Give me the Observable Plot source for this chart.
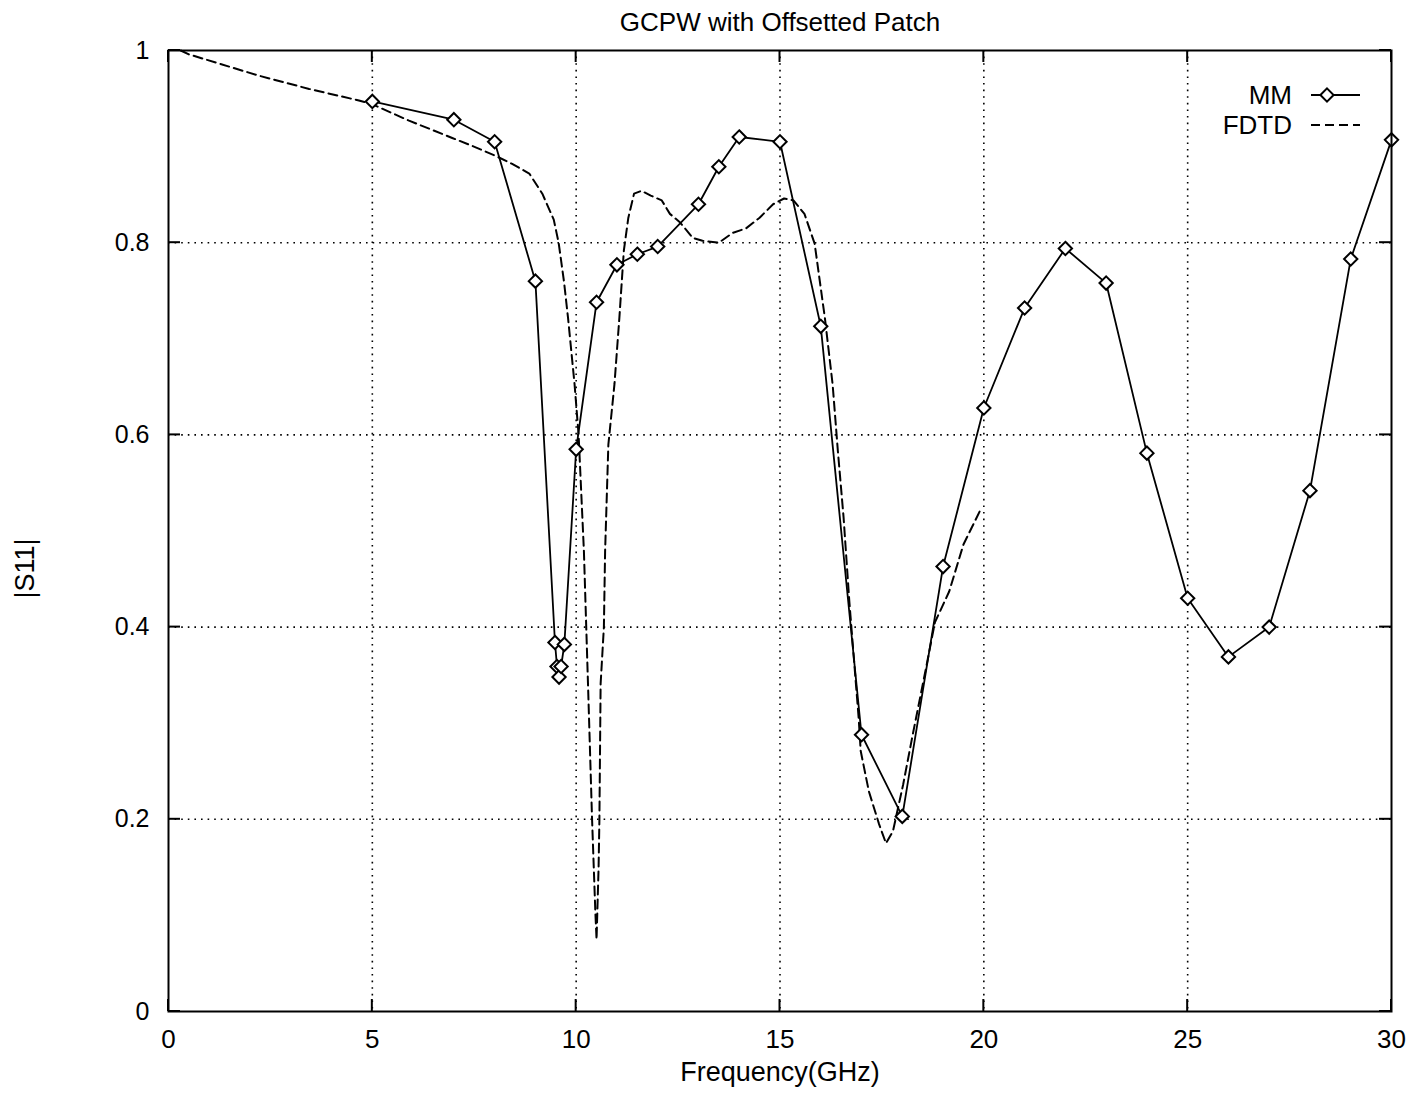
<!DOCTYPE html>
<html>
<head>
<meta charset="utf-8">
<script src="https://cdn.jsdelivr.net/npm/d3@7"></script>
<script src="https://cdn.jsdelivr.net/npm/@observablehq/plot@0.6"></script>
<style>
  html, body { margin: 0; padding: 0; background: #fff; }
  #chart svg { display: block; }
</style>
</head>
<body>
<div id="chart"></div>
<script>
const title = "GCPW with Offsetted Patch";
const xLabel = "Frequency(GHz)";
const yLabel = "|S11|";
const xTicks = [0, 5, 10, 15, 20, 25, 30];
const yTicks = [0, 0.2, 0.4, 0.6, 0.8, 1];
const seriesNames = ["MM", "FDTD"];

// MM (solid line with diamonds)
const mmFreq = [5, 7, 8, 9, 9.48, 9.53, 9.58, 9.63, 9.71, 10, 10.5, 11, 11.5, 12, 13, 13.5, 14, 15, 16, 17, 18, 19, 20, 21, 22, 23, 24, 25, 26, 27, 28, 29, 30];
const mmS11  = [0.947, 0.928, 0.905, 0.760, 0.384, 0.359, 0.348, 0.359, 0.382, 0.585, 0.738, 0.777, 0.788, 0.796, 0.840, 0.879, 0.910, 0.905, 0.713, 0.288, 0.203, 0.463, 0.628, 0.732, 0.794, 0.758, 0.581, 0.430, 0.369, 0.400, 0.542, 0.783, 0.907];

// FDTD (dashed line)
const fdtdFreq = [0.3, 0.5, 2.2, 3.45, 4.67, 5.0, 5.9, 6.96, 7.55, 8.04, 8.43, 8.85, 9.17, 9.45, 9.57, 9.7, 9.8, 9.96, 10.06, 10.19, 10.29, 10.39, 10.47, 10.5, 10.55, 10.57, 10.6, 10.68, 10.71, 10.79, 10.94, 11.06, 11.17, 11.28, 11.42, 11.6, 11.83, 12.1, 12.3, 12.55, 12.86, 13.1, 13.5, 13.83, 14.17, 14.5, 14.83, 15.1, 15.33, 15.6, 15.85, 16.1, 16.29, 16.42, 16.56, 16.7, 16.93, 16.98, 17.18, 17.43, 17.6, 17.77, 18.02, 18.26, 18.58, 18.8, 19.15, 19.5, 19.94];
const fdtdS11  = [1.0, 0.996, 0.974, 0.960, 0.948, 0.944, 0.927, 0.909, 0.899, 0.890, 0.882, 0.872, 0.851, 0.824, 0.800, 0.760, 0.722, 0.653, 0.600, 0.479, 0.341, 0.200, 0.104, 0.075, 0.150, 0.200, 0.341, 0.400, 0.479, 0.590, 0.653, 0.722, 0.792, 0.826, 0.851, 0.854, 0.849, 0.844, 0.830, 0.821, 0.805, 0.802, 0.800, 0.810, 0.815, 0.826, 0.840, 0.846, 0.844, 0.830, 0.799, 0.722, 0.653, 0.583, 0.514, 0.427, 0.305, 0.271, 0.229, 0.195, 0.175, 0.1875, 0.236, 0.289, 0.357, 0.405, 0.437, 0.486, 0.524];

const mm = mmFreq.map((f, i) => ({f, s: mmS11[i]}));
const fdtd = fdtdFreq.map((f, i) => ({f, s: fdtdS11[i]}));

const W = 1412, H = 1097;
const mL = 168, mR = 21, mT = 50, mB = 86;
const font = "'Liberation Sans', Arial, Helvetica, sans-serif";
const innerX = xTicks.slice(1, -1);
const innerY = yTicks.slice(1, -1);

const plot = Plot.plot({
  width: W,
  height: H,
  marginLeft: mL,
  marginRight: mR,
  marginTop: mT,
  marginBottom: mB,
  style: {fontFamily: font, color: "black", background: "white"},
  x: {domain: [0, 30]},
  y: {domain: [0, 1]},
  marks: [
    // dotted grid
    Plot.ruleX(innerX, {x: d => d, stroke: "black", strokeWidth: 1.6, strokeDasharray: "1.6,5"}),
    Plot.ruleY(innerY, {y: d => d, stroke: "black", strokeWidth: 1.6, strokeDasharray: "1.6,5"}),
    Plot.axisX(xTicks, {tickSize: 0, tickPadding: 18, fontSize: 26, label: null, tickFormat: d => String(d)}),
    Plot.axisY(yTicks, {tickSize: 0, tickPadding: 19, fontSize: 25, label: null, tickFormat: d => String(d)}),
    // series
    Plot.line(fdtd, {x: "f", y: "s", stroke: "black", strokeWidth: 2, strokeDasharray: "9,5"}),
    Plot.line(mm, {x: "f", y: "s", stroke: "black", strokeWidth: 1.8}),
    Plot.dot(mm, {x: "f", y: "s", symbol: "diamond2", r: 6, stroke: "black", fill: "white", strokeWidth: 2}),
    Plot.frame({stroke: "black", strokeWidth: 2}),
    // titles
    Plot.text([title], {frameAnchor: "top", lineAnchor: "middle", dy: -28, fontSize: 26, fill: "black"}),
    Plot.text([xLabel], {frameAnchor: "bottom", lineAnchor: "middle", dy: 61, fontSize: 27, fill: "black"})
  ]
});

const svg = d3.select(plot);
const xs = plot.scale("x"), ys = plot.scale("y");
const X = v => xs.apply(v), Y = v => ys.apply(v);

// inward ticks on all four sides
const tk = svg.append("g").attr("stroke", "black").attr("stroke-width", 2);
const tlen = 12;
xTicks.forEach(v => {
  tk.append("line").attr("x1", X(v)).attr("x2", X(v)).attr("y1", Y(0)).attr("y2", Y(0) - tlen);
  tk.append("line").attr("x1", X(v)).attr("x2", X(v)).attr("y1", Y(1)).attr("y2", Y(1) + tlen);
});
yTicks.forEach(v => {
  tk.append("line").attr("y1", Y(v)).attr("y2", Y(v)).attr("x1", X(0)).attr("x2", X(0) + tlen);
  tk.append("line").attr("y1", Y(v)).attr("y2", Y(v)).attr("x1", X(30)).attr("x2", X(30) - tlen);
});

// y-axis label (rotated)
svg.append("text")
  .attr("transform", `translate(${X(0) - 144},${(Y(0) + Y(1)) / 2 + 38}) rotate(-90)`)
  .attr("text-anchor", "middle").attr("dy", "0.36em")
  .attr("font-family", font).attr("font-size", 27).attr("fill", "black")
  .text(yLabel);

// legend (top-right inside the frame)
const right = X(30);
const lg = svg.append("g").attr("font-family", font).attr("font-size", 26).attr("fill", "black");
const rows = [{name: seriesNames[0], dy: 45, dashed: false}, {name: seriesNames[1], dy: 75, dashed: true}];
rows.forEach(r => {
  const yy = Y(1) + r.dy;
  lg.append("text").attr("x", right - 99).attr("y", yy).attr("dy", "0.36em").attr("text-anchor", "end").text(r.name);
  lg.append("line").attr("x1", right - 80).attr("x2", right - 31).attr("y1", yy).attr("y2", yy)
    .attr("stroke", "black").attr("stroke-width", r.dashed ? 2 : 1.8)
    .attr("stroke-dasharray", r.dashed ? "9,5" : null);
  if (!r.dashed) {
    const cx = right - 64, s = 6.6;
    lg.append("path").attr("d", `M${cx},${yy - s}L${cx + s},${yy}L${cx},${yy + s}L${cx - s},${yy}Z`)
      .attr("fill", "white").attr("stroke", "black").attr("stroke-width", 2);
  }
});

document.getElementById("chart").appendChild(plot);
</script>
</body>
</html>
